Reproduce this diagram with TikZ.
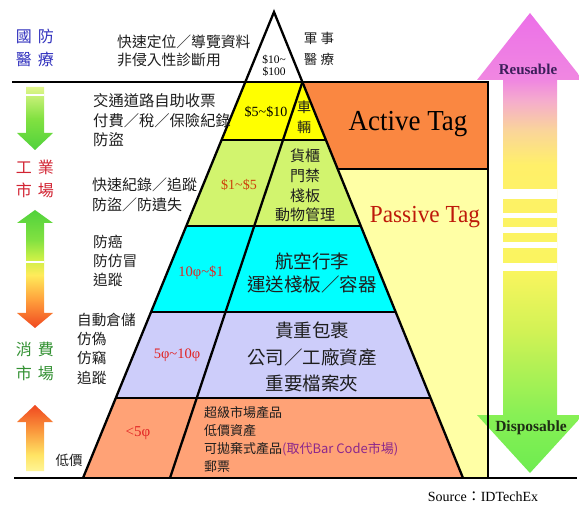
\documentclass[tikz,border=0pt]{standalone}
\usepackage{fontspec}
\usepackage{graphicx}
\setmainfont{Liberation Serif}
\newfontfamily\cjk{Noto Sans CJK TC}
\usetikzlibrary{calc}

\definecolor{txtblack}{RGB}{30,30,30}
\definecolor{bandyellow}{RGB}{255,255,0}
\definecolor{bandgreen}{RGB}{210,244,110}
\definecolor{bandcyan}{RGB}{0,255,255}
\definecolor{bandlav}{RGB}{205,205,250}
\definecolor{bandorange}{RGB}{255,162,118}
\definecolor{activeorange}{RGB}{250,135,65}
\definecolor{passiveyellow}{RGB}{255,255,165}
\definecolor{pricered}{RGB}{225,35,35}
\definecolor{pricebrown}{RGB}{205,65,10}
\definecolor{pasred}{RGB}{190,25,10}
\definecolor{purpletxt}{RGB}{140,40,140}
\definecolor{defblue}{RGB}{50,50,190}
\definecolor{indred}{RGB}{210,35,50}
\definecolor{congreen}{RGB}{50,145,50}
\definecolor{reusetxt}{RGB}{60,30,90}
\definecolor{disptxt}{RGB}{30,45,20}

% right arrow colours
\definecolor{raA}{RGB}{110,236,80}
\definecolor{raB}{RGB}{135,240,85}
\definecolor{raC}{RGB}{210,242,85}
\definecolor{raD}{RGB}{250,245,95}
\definecolor{raE}{RGB}{255,240,105}
\definecolor{raF}{RGB}{250,212,155}
\definecolor{raG}{RGB}{245,172,205}
\definecolor{raH}{RGB}{240,135,225}
\definecolor{raI}{RGB}{236,112,232}
% left arrow colours
\definecolor{laGreen}{RGB}{80,210,60}
\definecolor{laLight}{RGB}{225,246,140}
\definecolor{laMid}{RGB}{130,225,65}
\definecolor{laYG}{RGB}{200,240,70}
\definecolor{laYellow}{RGB}{255,235,90}
\definecolor{laOrange}{RGB}{255,160,60}
\definecolor{laRed}{RGB}{240,72,32}
\definecolor{laPale}{RGB}{255,245,150}
\definecolor{laYel2}{RGB}{255,228,100}
\definecolor{laOr2}{RGB}{250,150,60}

\pgfdeclareverticalshading{rarrowshade}{100bp}{color(0bp)=(raA); color(25bp)=(raA); color(31.3bp)=(raB); color(40.5bp)=(raC); color(47.1bp)=(raD); color(58.5bp)=(raE); color(62.3bp)=(raF); color(65.5bp)=(raG); color(67.7bp)=(raH); color(75bp)=(raI); color(100bp)=(raI)}
\pgfdeclareverticalshading{larrowone}{100bp}{color(0bp)=(laGreen); color(25bp)=(laGreen); color(50bp)=(laMid); color(75bp)=(laLight); color(100bp)=(laLight)}
\pgfdeclareverticalshading{larrowtwo}{100bp}{color(0bp)=(laRed); color(25bp)=(laRed); color(36.9bp)=(laOrange); color(47.5bp)=(laYellow); color(54.7bp)=(laYG); color(62.3bp)=(laMid); color(75bp)=(laGreen); color(100bp)=(laGreen)}
\pgfdeclareverticalshading{larrowthree}{100bp}{color(0bp)=(laPale); color(25bp)=(laPale); color(37.1bp)=(laYel2); color(56.1bp)=(laOr2); color(75bp)=(laRed); color(100bp)=(laRed)}

\newcommand{\cjsz}[2]{\cjk\fontsize{#1}{#2}\selectfont}
\newcommand{\rmsz}[2]{\fontsize{#1}{#2}\selectfont}
\newcommand{\phic}{φ}
\newcommand{\tld}{{\char"007E\relax}}

\begin{document}
\begin{tikzpicture}[x=1pt,y=-1pt,
  frame/.style={line width=2.3pt, draw=black},
  cjtext/.style={inner sep=0pt, text=txtblack},
  price/.style={inner sep=0pt},
  shaftgap/.style={fill=white}]
\useasboundingbox (0,0) rectangle (579,505);
\clip (0,0) rectangle (579,505);
\fill[white] (0,0) rectangle (579,505);

% ---------- pyramid key points ----------
\coordinate (apex) at (274,12);
\coordinate (L82) at (245.3,82);   \coordinate (R82) at (302.4,82);
\coordinate (L140) at (221.5,140); \coordinate (R140) at (325.9,140);
\coordinate (R169) at (337.7,169);
\coordinate (L226) at (186.3,226); \coordinate (R226) at (360.8,226);
\coordinate (L312) at (151.0,312); \coordinate (R312) at (395.7,312);
\coordinate (L398) at (115.8,398); \coordinate (R398) at (430.5,398);
\coordinate (BL) at (83,478);      \coordinate (BR) at (463,478);
\coordinate (innerbot) at (170,478);
\coordinate (topleft) at (12,82);
\coordinate (corner) at (488,82);
\coordinate (midright) at (488,169);
\coordinate (botright) at (488,478);
\coordinate (baseleft) at (14,478);
\coordinate (baseright) at (577,478);

% ---------- fills ----------
\fill[bandyellow] (L82) -- (R82) -- (R140) -- (L140) -- cycle;
\fill[bandgreen] (L140) -- (R140) -- (R226) -- (L226) -- cycle;
\fill[bandcyan] (L226) -- (R226) -- (R312) -- (L312) -- cycle;
\fill[bandlav] (L312) -- (R312) -- (R398) -- (L398) -- cycle;
\fill[bandorange] (L398) -- (R398) -- (BR) -- (BL) -- cycle;
\fill[activeorange] (R82) -- (corner) -- (midright) -- (R169) -- cycle;
\fill[passiveyellow] (R169) -- (midright) -- (botright) -- (BR) -- cycle;

% ---------- right arrow ----------
\shade[shading=rarrowshade] (530,13) -- (583,80) -- (557,80) -- (557,415) -- (583,415) -- (530,473) -- (477,415) -- (503,415) -- (503,80) -- (477,80) -- cycle;
\fill[shaftgap] (503,189) rectangle (557,199);
\fill[shaftgap] (503,213) rectangle (557,218.5);
\fill[shaftgap] (503,227) rectangle (557,233);
\fill[shaftgap] (503,242) rectangle (557,248);
\fill[shaftgap] (503,263) rectangle (557,271);

% ---------- left arrows ----------
\shade[shading=larrowone] (26,87) -- (26,133) -- (17,133) -- (35,150) -- (53,133) -- (44,133) -- (44,87) -- cycle;
\fill[shaftgap] (26,94.5) rectangle (44,96);
\shade[shading=larrowtwo] (35,210) -- (53,223) -- (44,223) -- (44,313) -- (53,313) -- (35,328) -- (17,313) -- (26,313) -- (26,223) -- (17,223) -- cycle;
\fill[shaftgap] (26,261.5) rectangle (44,263);
\shade[shading=larrowthree] (35,405) -- (53,422) -- (44,422) -- (44,471) -- (26,471) -- (26,422) -- (17,422) -- cycle;

% ---------- lines ----------
\draw[frame] (BL) -- (apex) -- (BR);
\draw[frame] (topleft) -- (corner) -- (botright);
\draw[frame] (R169) -- (midright);
\draw[frame] (L140) -- (R140);
\draw[frame] (L226) -- (R226);
\draw[frame] (L312) -- (R312);
\draw[frame] (L398) -- (R398);
\draw[frame] (R82) -- (innerbot);
\draw[frame] (baseleft) -- (baseright);

% ---------- left labels ----------
\node[cjtext, text=defblue, font=\cjsz{16}{23}, align=center] (guofang) at (35,47.5) {國\hspace{6pt}防\\醫\hspace{6pt}療};
\node[cjtext, text=indred, font=\cjsz{16}{23}, align=center] (gongye) at (35,178.5) {工\hspace{6pt}業\\市\hspace{6pt}場};
\node[cjtext, text=congreen, font=\cjsz{16}{24}, align=center] (xiaofei) at (35,361) {消\hspace{6pt}費\\市\hspace{6pt}場};

% ---------- application texts ----------
\node[cjtext, font=\cjsz{14.8}{18}, align=left, anchor=west] (apptop) at (117,51) {快速定位／導覽資料\\非侵入性診斷用};
\node[cjtext, font=\cjsz{15.3}{19.5}, align=left, anchor=west] (appyellow) at (93,120.5) {交通道路自助收票\\付費／稅／保險紀錄\\防盜};
\node[cjtext, font=\cjsz{15}{20}, align=left, anchor=west] (appgreen) at (92,195) {快速紀錄／追蹤\\防盜／防遺失};
\node[cjtext, font=\cjsz{14.7}{19}, align=left, anchor=west] (appcyan) at (93,261) {防癌\\防仿冒\\追蹤};
\node[cjtext, font=\cjsz{14.6}{19.3}, align=left, anchor=west] (applav) at (77,348.5) {自動倉儲\\仿偽\\仿竊\\追蹤};
\node[cjtext, font=\cjsz{13.5}{16}] (appcheap) at (69,460) {低價};

% ---------- prices ----------
\node[price, font=\rmsz{11.5}{12}, align=center] (ptop) at (274,66) {\$10\tld\\\$100};
\node[price, font=\rmsz{14}{16}] (pyellow) at (266,112) {\$5\tld\$10};
\node[price, text=pricebrown, font=\rmsz{14}{16}] (pgreen) at (239,185) {\$1\tld\$5};
\node[price, text=pricered, font=\rmsz{14.5}{16}] (pcyan) at (201,273) {10\phic\tld\$1};
\node[price, text=pricered, font=\rmsz{14.5}{16}] (plav) at (177,355) {5\phic\tld10\phic};
\node[price, text=pricered, font=\rmsz{15}{16}] (porange) at (138,433) {<5\phic};

% ---------- products in pyramid ----------
\node[cjtext, font=\cjsz{13.5}{21}, align=center] (military) at (319,49) {軍\hspace{3.5pt}事\\醫\hspace{3.5pt}療};
\node[cjtext, font=\cjsz{14}{20}, align=center] (vehicle) at (304,117) {車\\輛};
\node[cjtext, font=\cjsz{15}{19.7}, align=center] (cargo) at (305,185.5) {貨櫃\\門禁\\棧板\\動物管理};
\node[cjtext, font=\cjsz{18.5}{23}, align=center] (airline) at (312,272.5) {航空行李\\運送棧板／容器};
\node[cjtext, font=\cjsz{18.5}{26.5}, align=center] (valuable) at (312,357) {貴重包裹\\公司／工廠資產\\重要檔案夾};
\node[cjtext, font=\cjsz{13}{18}, align=left, anchor=west] (cheapgoods) at (204,440) {超級市場產品\\低價資產\\可拋棄式產品\textcolor{purpletxt}{(取代Bar Code市場)}\\郵票};

% ---------- tag labels ----------
\node[inner sep=0pt, font=\rmsz{29}{30}] (active) at (408,124) {\scalebox{0.93}[1]{Active Tag}};
\node[inner sep=0pt, text=pasred, font=\rmsz{24.5}{26}] (passive) at (425,217) {\scalebox{0.95}[1]{Passive Tag}};
\node[inner sep=0pt, text=reusetxt, font=\bfseries\rmsz{15}{16}] (reusable) at (528,69) {Reusable};
\node[inner sep=0pt, text=disptxt, font=\bfseries\rmsz{15.5}{16}] (disposable) at (531,428) {Disposable};

% ---------- source ----------
\node[inner sep=0pt, font=\rmsz{14}{16}] (source) at (483,497) {Source{\cjk ：}IDTechEx};
\end{tikzpicture}
\end{document}
